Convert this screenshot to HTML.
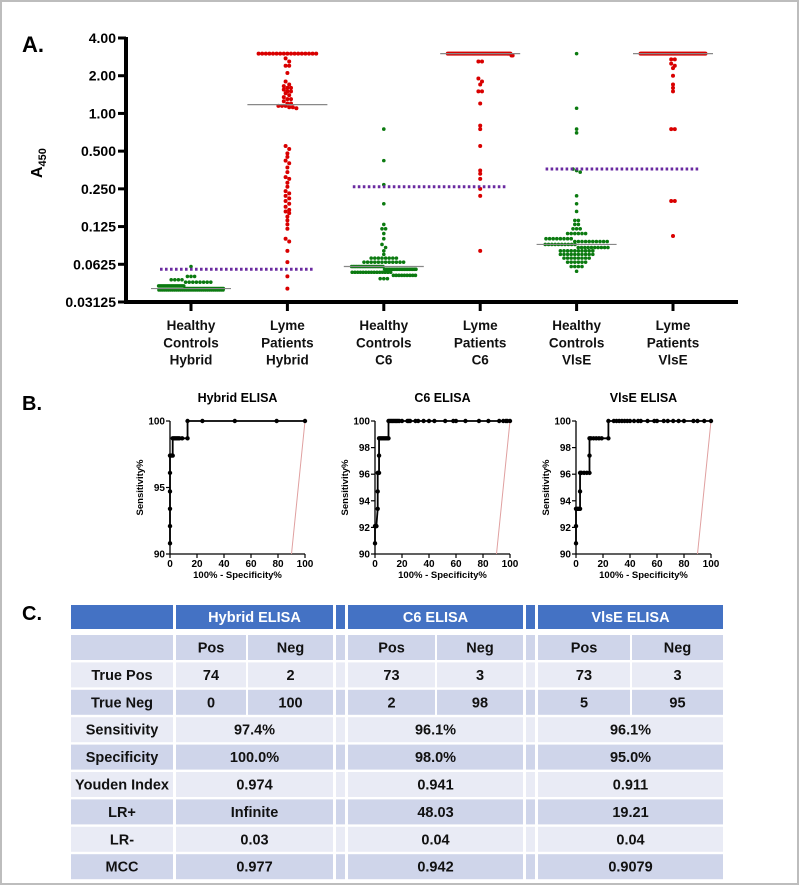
<!DOCTYPE html>
<html><head><meta charset="utf-8"><style>
html,body{margin:0;padding:0;background:#fff;}
svg{display:block;font-family:"Liberation Sans",Arial,sans-serif;}
</style></head><body>
<svg id="fig" width="800" height="886" viewBox="0 0 800 886" xmlns="http://www.w3.org/2000/svg">
<rect x="1" y="1" width="797" height="883" fill="#fff" stroke="#bdbdbd" stroke-width="2"/>
<text x="22" y="52" font-size="22" font-weight="bold">A.</text>
<text x="22" y="410" font-size="20" font-weight="bold">B.</text>
<text x="22" y="620" font-size="20" font-weight="bold">C.</text>
<g id="panelA"></g>
<g id="panelB"></g>
<g id="panelC"></g>
</svg>
<script>
// ---------- Panel A data ----------
const categories = ["Healthy|Controls|Hybrid","Lyme|Patients|Hybrid","Healthy|Controls|C6","Lyme|Patients|C6","Healthy|Controls|VlsE","Lyme|Patients|VlsE"];
const yTicks = [4,2,1,0.5,0.25,0.125,0.0625,0.03125];
const yTickLabels = ["4.00","2.00","1.00","0.500","0.250","0.125","0.0625","0.03125"];
const cutoffs = [0.057,0.26,0.36];
const healthyHybrid = [0.060,0.050,0.050,0.050,0.047,0.047,0.047,0.047,0.045,0.045,0.045,0.045,0.045,0.045,0.045,0.045,
0.042,0.042,0.042,0.042,0.042,0.042,0.042,0.042,0.042,0.042,0.042,0.042,0.042,0.042,0.042,0.042,0.042,0.042,0.042,0.042,
0.040,0.040,0.040,0.040,0.040,0.040,0.040,0.040,0.040,0.040,0.040,0.040,0.040,0.040,0.040,0.040,0.040,0.040,0.040,0.040,0.040,0.040,0.040,0.040,0.040,0.040,0.040,0.040,0.040,0.040,
0.039,0.039,0.039,0.039,0.039,0.039,0.039,0.039,0.039,0.039,0.039,0.039,0.039,0.039,0.039,0.039,0.039,0.039,0.039,0.039,0.039,0.039,0.039,0.039,0.039,0.039,0.039,0.039,0.039,0.039,0.039,0.039,0.039,0.039];
const lymeHybrid = [3.0,3.0,3.0,3.0,3.0,3.0,3.0,3.0,3.0,3.0,3.0,3.0,3.0,3.0,3.0,3.0,3.0,
2.75,2.6,2.4,2.4,2.1,
1.8,1.7,1.65,1.6,1.6,1.55,1.5,1.5,1.45,1.4,1.35,1.3,1.3,1.25,1.2,1.2,1.15,1.15,1.15,1.12,1.12,1.1,
0.55,0.52,0.48,0.45,0.42,0.40,0.37,0.34,0.31,0.30,0.28,0.26,0.24,0.23,0.22,0.21,0.20,0.19,0.18,0.17,0.165,0.16,0.15,0.14,0.13,0.12,0.10,0.095,0.08,0.065,0.05,0.04];
const healthyC6 = [0.75,0.42,0.27,0.19,0.13,0.12,0.12,0.11,0.10,0.09,0.085,0.08,0.075,
0.07,0.07,0.07,0.07,0.07,0.07,0.07,0.07,
0.065,0.065,0.065,0.065,0.065,0.065,0.065,0.065,0.065,0.065,0.065,0.065,
0.06,0.06,0.06,0.06,0.06,0.06,0.06,0.06,0.06,0.06,0.06,0.06,0.06,0.06,0.06,0.06,0.06,0.06,0.06,0.06,
0.057,0.057,0.057,0.057,0.057,0.057,0.057,0.057,0.057,0.057,0.057,0.057,0.057,0.057,0.057,0.057,0.057,0.057,0.057,0.057,
0.054,0.054,0.054,0.054,0.054,0.054,0.054,0.054,0.054,0.054,0.054,0.054,0.054,0.054,0.054,
0.051,0.051,0.051,0.051,0.051,0.051,0.051,0.051,0.051,0.048,0.048,0.048];
const lymeC6 = [3.0,3.0,3.0,3.0,3.0,3.0,3.0,3.0,3.0,3.0,3.0,3.0,3.0,3.0,3.0,3.0,3.0,3.0,3.0,3.0,3.0,3.0,3.0,3.0,3.0,3.0,3.0,3.0,3.0,3.0,
3.0,3.0,3.0,3.0,3.0,3.0,3.0,3.0,3.0,3.0,3.0,3.0,3.0,3.0,3.0,3.0,3.0,3.0,3.0,3.0,3.0,3.0,3.0,3.0,3.0,3.0,3.0,
2.9,2.9,2.6,2.6,1.9,1.8,1.7,1.5,1.5,1.2,0.8,0.75,0.55,0.35,0.33,0.3,0.25,0.22,0.08];
const healthyVlsE = [3.0,1.1,0.75,0.7,0.36,0.35,0.34,0.22,0.19,0.165,0.14,0.14,0.13,0.13,
0.12,0.12,0.12,0.11,0.11,0.11,0.11,0.11,0.11,
0.10,0.10,0.10,0.10,0.10,0.10,0.10,0.10,
0.095,0.095,0.095,0.095,0.095,0.095,0.095,0.095,0.095,0.095,
0.09,0.09,0.09,0.09,0.09,0.09,0.09,0.09,0.09,0.09,
0.085,0.085,0.085,0.085,0.085,0.085,0.085,0.085,0.085,0.085,
0.08,0.08,0.08,0.08,0.08,0.08,0.08,0.08,0.08,0.08,
0.075,0.075,0.075,0.075,0.075,0.075,0.075,0.075,0.075,0.075,
0.07,0.07,0.07,0.07,0.07,0.07,0.07,0.07,
0.065,0.065,0.065,0.065,0.065,0.065,0.06,0.06,0.06,0.06,0.055];
const lymeVlsE = [3.0,3.0,3.0,3.0,3.0,3.0,3.0,3.0,3.0,3.0,3.0,3.0,3.0,3.0,3.0,3.0,3.0,3.0,3.0,3.0,3.0,3.0,3.0,3.0,3.0,3.0,3.0,3.0,3.0,3.0,
3.0,3.0,3.0,3.0,3.0,3.0,3.0,3.0,3.0,3.0,3.0,3.0,3.0,3.0,3.0,3.0,3.0,3.0,3.0,3.0,3.0,3.0,3.0,3.0,3.0,3.0,3.0,3.0,3.0,3.0,3.0,3.0,
2.7,2.7,2.5,2.4,2.3,2.0,1.7,1.6,1.5,0.75,0.75,0.2,0.2,0.105];
const groups = [healthyHybrid,lymeHybrid,healthyC6,lymeC6,healthyVlsE,lymeVlsE];

// ---------- Panel B data ----------
const rocTitles = ["Hybrid  ELISA","C6 ELISA","VlsE ELISA"];
const rocYTicks = [[90,95,100],[90,92,94,96,98,100],[90,92,94,96,98,100]];
const rocXTicks = [0,20,40,60,80,100];
const hybridFpr = [0,0,0,0,0,0,1,2,2,3,4,5,6,7,9,13,13,24,48,79,100];
const hybridSens = [90.8,92.1,93.4,94.7,96.1,97.4,97.4,97.4,98.7,98.7,98.7,98.7,98.7,98.7,98.7,98.7,100,100,100,100,100];
const c6Fpr = [0,0,1,1,2,2,2,3,3,3,4,5,6,7,8,9,10,10,11,12,13,14,15,16,17,18,20,24,25,26,30,32,36,40,44,52,58,60,67,77,84,92,95,97,98,100];
const c6Sens = [90.8,92.1,92.1,92.1,93.4,94.7,96.1,96.1,97.4,98.7,98.7,98.7,98.7,98.7,98.7,98.7,98.7,100,100,100,100,100,100,100,100,100,100,100,100,100,100,100,100,100,100,100,100,100,100,100,100,100,100,100,100,100];
const vlseFpr = [0,0,0,1,2,3,3,3,4,6,8,10,10,10,11,13,15,17,19,24,24,28,30,32,34,36,38,40,43,46,48,53,58,60,65,68,72,76,80,87,90,95,100];
const vlseSens = [90.8,92.1,93.4,93.4,93.4,93.4,94.7,96.1,96.1,96.1,96.1,96.1,97.4,98.7,98.7,98.7,98.7,98.7,98.7,98.7,100,100,100,100,100,100,100,100,100,100,100,100,100,100,100,100,100,100,100,100,100,100,100];
const rocFpr = [hybridFpr,c6Fpr,vlseFpr];
const rocSens = [hybridSens,c6Sens,vlseSens];

// ---------- Panel C data ----------
const assayNames = ["Hybrid ELISA","C6 ELISA","VlsE ELISA"];
const rowLabels = ["","True Pos","True Neg","Sensitivity","Specificity","Youden Index","LR+","LR-","MCC"];
const truePos = [["74","2"],["73","3"],["73","3"]];
const trueNeg = [["0","100"],["2","98"],["5","95"]];
const sensitivity = ["97.4%","96.1%","96.1%"];
const specificity = ["100.0%","98.0%","95.0%"];
const youden = ["0.974","0.941","0.911"];
const lrPlus = ["Infinite","48.03","19.21"];
const lrMinus = ["0.03","0.04","0.04"];
const mcc = ["0.977","0.942","0.9079"];

const NS="http://www.w3.org/2000/svg";
function mk(tag,attrs,parent){const e=document.createElementNS(NS,tag);for(const k in attrs)e.setAttribute(k,attrs[k]);parent.appendChild(e);return e;}

// ===== Panel A =====
const A=document.getElementById('panelA');
const axX=126, axTop=38, axBot=302, perOct=(axBot-axTop)/7;
function yA(v){return axBot-perOct*Math.log2(v/0.03125);}
function xA(i){return 191+i*96.4;}
let e;
e=mk('line',{x1:axX,y1:axTop-1,x2:axX,y2:axBot+2,stroke:'#000','stroke-width':4},A);


e=mk('line',{x1:axX-2,y1:axBot,x2:738,y2:axBot,stroke:'#000','stroke-width':4},A);


yTicks.forEach((t,i)=>{
  const y=yA(t);
  e=mk('line',{x1:axX-8,y1:y,x2:axX,y2:y,stroke:'#000','stroke-width':3},A);
  
  
  e=mk('text',{x:axX-10,y:y+5,'text-anchor':'end','font-size':14,'font-weight':'bold'},A);
  e.textContent=yTickLabels[i];
  
  
});
e=mk('text',{transform:'translate(42,178) rotate(-90)','font-size':16,'font-weight':'bold'},A);
e.innerHTML='A<tspan font-size="11" dy="4">450</tspan>';


categories.forEach((c,i)=>{
  const x=xA(i);
  e=mk('line',{x1:x,y1:axBot,x2:x,y2:axBot+9,stroke:'#000','stroke-width':3},A);
  
  
  c.split('|').forEach((ln,j)=>{
    e=mk('text',{x:x,y:330+j*17.3,'text-anchor':'middle','font-size':13.5,'font-weight':'bold',fill:'#111'},A);
    e.textContent=ln;
    
    
  });
});
function median(a){const s=[...a].sort((p,q)=>p-q);const n=s.length;return n%2?s[(n-1)/2]:(s[n/2-1]+s[n/2])/2;}
groups.forEach((g,i)=>{
  const cx=xA(i), col=(i%2===0)?'#0b7a10':'#d90000';
  const pys=g.map(yA).sort((a,b)=>a-b);
  const rows=[];
  pys.forEach(py=>{const r=rows[rows.length-1]; if(r&&py-r.y<3.2)r.pts.push(py); else rows.push({y:py,pts:[py]});});
  rows.forEach(r=>{
    const n=r.pts.length, sp=Math.min(3.6,66/n);
    r.pts.forEach((py,k)=>{
      const dx=(k-(n-1)/2)*sp;
      e=mk('circle',{cx:cx+dx,cy:py,r:(i%2===0)?1.8:2.0,fill:col},A);
      
      
    });
  });
  const m=yA(median(g));
  e=mk('line',{x1:cx-40,y1:m,x2:cx+40,y2:m,stroke:'#888','stroke-width':1.2},A);
  
  
});
cutoffs.forEach((c,k)=>{
  const y=yA(c), x0=xA(2*k)-31, x1=xA(2*k+1)+27;
  e=mk('line',{x1:x0,y1:y,x2:x1,y2:y,stroke:'#6a2aa0','stroke-width':3,'stroke-dasharray':'2.6,2.4'},A);
  
  
});

// ===== Panel B =====
const B=document.getElementById('panelB');
const rocLeft=[170,375,576], rocW=135, rTop=421, rBot=554;
rocTitles.forEach((t,p)=>{
  const L=rocLeft[p];
  const xr=v=>L+v/100*rocW, yr=v=>rBot-(v-90)/10*(rBot-rTop);
  e=mk('text',{x:L+rocW/2,y:402,'text-anchor':'middle','font-size':12.5,'font-weight':'bold'},B);
  e.textContent=t;
  
  
  e=mk('line',{x1:L,y1:rTop,x2:L,y2:rBot,stroke:'#000','stroke-width':1.3},B);
  
  
  e=mk('line',{x1:L,y1:rBot,x2:L+rocW,y2:rBot,stroke:'#000','stroke-width':1.3},B);
  
  
  rocYTicks[p].forEach(v=>{
    e=mk('line',{x1:L-4,y1:yr(v),x2:L,y2:yr(v),stroke:'#000','stroke-width':1.2},B);
    
    
    e=mk('text',{x:L-5,y:yr(v)+3.5,'text-anchor':'end','font-size':10,'font-weight':'bold'},B);
    e.textContent=v;
    
    
  });
  rocXTicks.forEach(v=>{
    e=mk('line',{x1:xr(v),y1:rBot,x2:xr(v),y2:rBot+4,stroke:'#000','stroke-width':1.2},B);
    
    
    e=mk('text',{x:xr(v),y:rBot+13,'text-anchor':'middle','font-size':10,'font-weight':'bold'},B);
    e.textContent=v;
    
    
  });
  e=mk('text',{x:L+rocW/2,y:rBot+24,'text-anchor':'middle','font-size':9.5,'font-weight':'bold'},B);
  e.textContent='100% - Specificity%';
  
  
  e=mk('text',{transform:`translate(${L-27},${(rTop+rBot)/2}) rotate(-90)`,'text-anchor':'middle','font-size':9.5,'font-weight':'bold'},B);
  e.textContent='Sensitivity%';
  
  
  e=mk('line',{x1:xr(90),y1:yr(90),x2:xr(100),y2:yr(100),stroke:'#e0a0a0','stroke-width':1},B);
  
  
  const fx=rocFpr[p], sy=rocSens[p];
  e=mk('polyline',{points:fx.map((v,k)=>xr(v)+','+yr(sy[k])).join(' '),fill:'none',stroke:'#000','stroke-width':1.8},B);
  
  
  fx.forEach((v,k)=>{
    e=mk('circle',{cx:xr(v),cy:yr(sy[k]),r:2.2,fill:'#000'},B);
    
    
  });
});

// ===== Panel C =====
const C=document.getElementById('panelC');
const cols={lab:[71,173],hp:[176,246],hn:[248,333],s1:[336,345],cp:[348,435],cn:[437,523],s2:[526,535],vp:[538,630],vn:[632,723]};
const dark='#cfd5ea', light='#e9ebf5', blue='#4472c4';
function cell(x0,x1,y,h,fill,txt,color,name){
  e=mk('rect',{x:x0,y:y,width:x1-x0,height:h,fill:fill},C);
  
  
  if(txt!==''){
    e=mk('text',{x:(x0+x1)/2,y:y+h/2+5,'text-anchor':'middle','font-size':14.5,'font-weight':'bold',fill:color},C);
    e.textContent=txt;
    
    
  }
}
const hy=605, hh=24;
cell(cols.lab[0],cols.lab[1],hy,hh,blue,'','#fff','header-blank');
cell(cols.hp[0],cols.hn[1],hy,hh,blue,assayNames[0],'#fff','header-hybrid');
cell(cols.s1[0],cols.s1[1],hy,hh,blue,'','#fff','header-spacer');
cell(cols.cp[0],cols.cn[1],hy,hh,blue,assayNames[1],'#fff','header-c6');
cell(cols.s2[0],cols.s2[1],hy,hh,blue,'','#fff','header-spacer');
cell(cols.vp[0],cols.vn[1],hy,hh,blue,assayNames[2],'#fff','header-vlse');
const merged=[sensitivity,specificity,youden,lrPlus,lrMinus,mcc];
rowLabels.forEach((lab,r)=>{
  const y=635+r*27.4, h=25, f=(r%2===0)?dark:light, tc='#111';
  cell(cols.lab[0],cols.lab[1],y,h,f,lab,tc,'row-label');
  cell(cols.s1[0],cols.s1[1],y,h,f,'',tc,'spacer');
  cell(cols.s2[0],cols.s2[1],y,h,f,'',tc,'spacer');
  const pairs=[[cols.hp,cols.hn],[cols.cp,cols.cn],[cols.vp,cols.vn]];
  pairs.forEach((pr,a)=>{
    if(r===0){cell(pr[0][0],pr[0][1],y,h,f,'Pos',tc,'pos-header');cell(pr[1][0],pr[1][1],y,h,f,'Neg',tc,'neg-header');}
    else if(r===1){cell(pr[0][0],pr[0][1],y,h,f,truePos[a][0],tc,'value');cell(pr[1][0],pr[1][1],y,h,f,truePos[a][1],tc,'value');}
    else if(r===2){cell(pr[0][0],pr[0][1],y,h,f,trueNeg[a][0],tc,'value');cell(pr[1][0],pr[1][1],y,h,f,trueNeg[a][1],tc,'value');}
    else {cell(pr[0][0],pr[1][1],y,h,f,merged[r-3][a],tc,'value');}
  });
});
</script>
</body></html>
